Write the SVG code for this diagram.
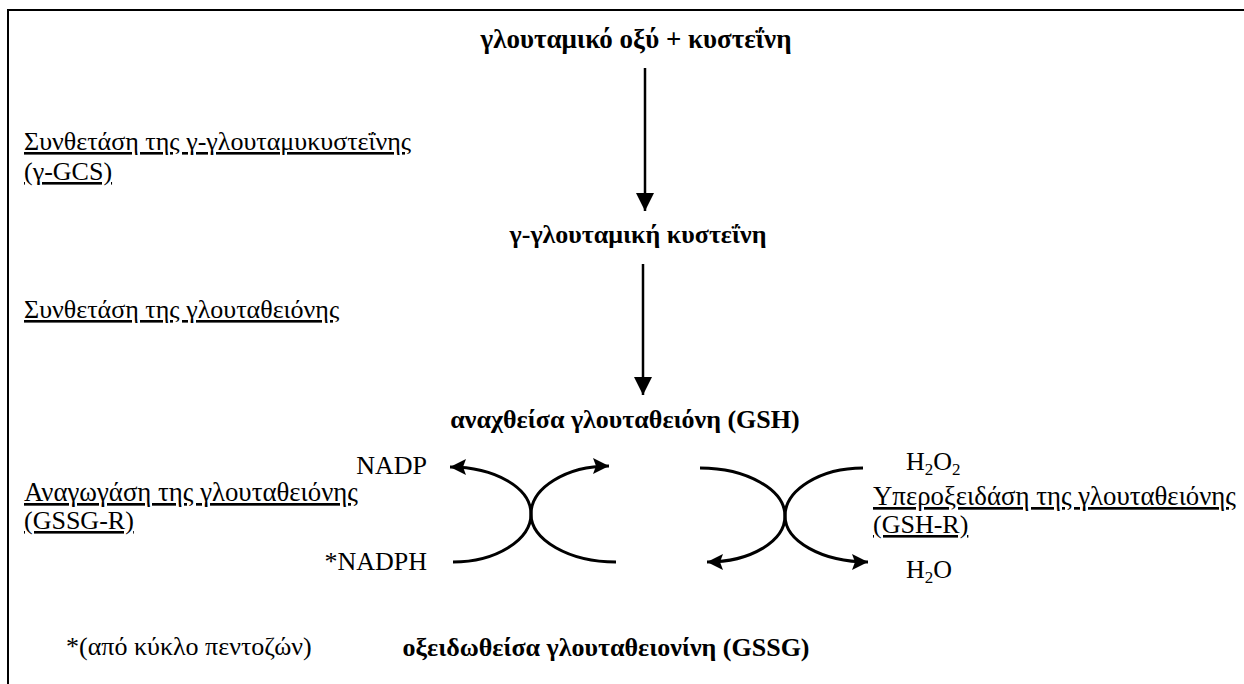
<svg xmlns="http://www.w3.org/2000/svg" width="1244" height="684" viewBox="0 0 1244 684">
<defs>
<marker id="ah" markerWidth="18" markerHeight="18" viewBox="0 0 18 18" refX="18" refY="9" orient="auto" markerUnits="userSpaceOnUse">
<path d="M0,0 L18,9 L0,18 Z" fill="#000"/>
</marker>
<marker id="ch" markerWidth="16" markerHeight="16" viewBox="0 0 16 16" refX="16" refY="8" orient="auto" markerUnits="userSpaceOnUse">
<path d="M0,0 L16,8 L0,16 L3,8 Z" fill="#000"/>
</marker>
</defs>
<rect width="1244" height="684" fill="#fff"/>
<path d="M8,684 L8,10 L1244,10" fill="none" stroke="#000" stroke-width="2"/>

<g font-family="'Liberation Serif', serif" font-size="26" font-weight="bold" text-anchor="middle">
<g id="n-glutamic"><text x="636" y="48" font-size="27">γλουταμικό οξύ + κυστεΐνη</text></g>
<g id="n-gglutcys"><text x="638" y="243">γ-γλουταμική κυστεΐνη</text></g>
<g id="n-gsh"><text x="625" y="428">αναχθείσα γλουταθειόνη (GSH)</text></g>
<g id="n-gssg"><text x="606" y="656">οξειδωθείσα γλουταθειονίνη (GSSG)</text></g>
</g>

<g font-family="'Liberation Serif', serif" font-size="26">
<g text-decoration="underline">
<g id="l-gcs"><text x="24" y="150">Συνθετάση της γ-γλουταμυκυστεΐνης</text><text x="24" y="180">(γ-GCS)</text></g>
<g id="l-gs"><text x="24" y="318">Συνθετάση της γλουταθειόνης</text></g>
<g id="l-gssgr"><text x="24" y="501" font-size="26.8">Αναγωγάση της γλουταθειόνης</text><text x="24" y="529">(GSSG-R)</text></g>
<g id="l-gshr"><text x="873" y="505" font-size="26.8">Υπεροξειδάση της γλουταθειόνης</text><text x="873" y="533">(GSH-R)</text></g>
</g>
<g id="n-nadp"><text x="427" y="474" text-anchor="end">NADP</text></g>
<g id="n-nadph"><text x="427" y="570" text-anchor="end">*NADPH</text></g>
<g id="n-h2o2"><text x="906" y="470">H<tspan font-size="17" dy="5">2</tspan><tspan dy="-5">O</tspan><tspan font-size="17" dy="5">2</tspan></text></g>
<g id="n-h2o"><text x="906" y="578">H<tspan font-size="17" dy="5">2</tspan><tspan dy="-5">O</tspan></text></g>
<g id="n-note"><text x="66" y="655">*(από κύκλο πεντοζών)</text></g>
</g>

<g id="connectors" fill="none" stroke="#000">
<path stroke-width="2.5" d="M645,68 L645,211" marker-end="url(#ah)"/>
<path stroke-width="2.5" d="M643,264 L643,395" marker-end="url(#ah)"/>
<path stroke-width="3" d="M453,562 C496,562 531,540 531,514 C531,488 495,467 450,467" marker-end="url(#ch)"/>
<path stroke-width="3" d="M616,562 C569,562 531,540 531,514 C531,488 566,466 609,466" marker-end="url(#ch)"/>
<path stroke-width="3" d="M700,468 C747,468 785,490 785,516 C785,541 751,562 707,562" marker-end="url(#ch)"/>
<path stroke-width="3" d="M863,468 C820,468 785,490 785,516 C785,541 822,562 868,562" marker-end="url(#ch)"/>
</g>
</svg>
